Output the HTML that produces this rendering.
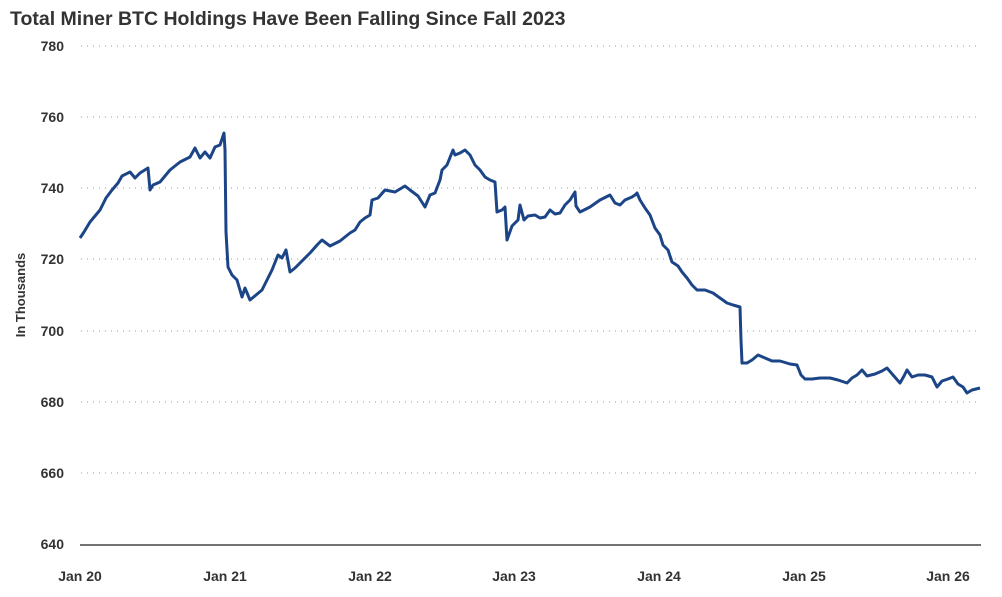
<!DOCTYPE html>
<html><head><meta charset="utf-8"><style>
body{margin:0;background:#fff;width:1002px;height:592px;overflow:hidden;font-family:"Liberation Sans",sans-serif}
</style></head><body>
<svg width="1002" height="592" xmlns="http://www.w3.org/2000/svg" font-family="Liberation Sans, sans-serif">
<text x="10" y="25" font-size="19.5" font-weight="bold" fill="#333">Total Miner BTC Holdings Have Been Falling Since Fall 2023</text>
<g stroke="#999" stroke-width="1" stroke-dasharray="1 5">
<line x1="81" x2="981" y1="46" y2="46"/><line x1="81" x2="981" y1="117" y2="117"/>
<line x1="81" x2="981" y1="188" y2="188"/><line x1="81" x2="981" y1="259" y2="259"/>
<line x1="81" x2="981" y1="331" y2="331"/><line x1="81" x2="981" y1="402" y2="402"/>
<line x1="81" x2="981" y1="473" y2="473"/>
</g>
<line x1="80" x2="981" y1="545" y2="545" stroke="#444" stroke-width="1.5"/>
<g font-size="14" font-weight="bold" fill="#333" text-anchor="end">
<text x="64" y="51">780</text><text x="64" y="122">760</text><text x="64" y="193">740</text>
<text x="64" y="264">720</text><text x="64" y="336">700</text><text x="64" y="407">680</text>
<text x="64" y="478">660</text><text x="64" y="549">640</text>
</g>
<g font-size="14" font-weight="bold" fill="#333" text-anchor="middle">
<text x="80" y="581">Jan 20</text><text x="225" y="581">Jan 21</text><text x="370" y="581">Jan 22</text>
<text x="514" y="581">Jan 23</text><text x="659" y="581">Jan 24</text><text x="804" y="581">Jan 25</text>
<text x="948" y="581">Jan 26</text>
</g>
<text transform="translate(25,295) rotate(-90)" font-size="13" font-weight="bold" fill="#333" text-anchor="middle">In Thousands</text>
<polyline fill="none" stroke="#1c4587" stroke-width="3" stroke-linejoin="round" points="
80,238 84,232 90,222 100,210 106,198 112,190 118,183 122,176 130,172 135,178 140,173 148,168 150,190 153,185 160,182 170,170 180,162 190,157 195,148 200,158 205,152 210,158 215,147 220,145 224,133 225,150 226,232 228,267 232,275 237,280 242,297 245,288 250,300 256,295 262,290 266,282 272,270 278,255 282,258 286,250 290,272 295,268 300,263 310,253 318,244 322,240 330,246 340,241 350,233 355,230 360,222 365,218 370,215 372,200 378,198 385,190 395,192 405,186 410,190 418,196 425,207 430,195 435,193 440,180 442,170 447,165 453,150 455,155 460,153 465,150 470,155 475,165 480,170 485,177 490,180 495,182 497,212 502,210 505,207 507,240 512,226 518,220 520,205 524,220 528,216 535,215 540,218 545,217 550,210 555,214 560,213 565,205 570,200 575,192 576,206 580,212 590,207 600,200 610,195 615,203 620,205 625,200 632,197 635,195 637,193 640,200 645,208 650,215 655,228 660,235 663,245 668,250 672,262 678,266 682,272 687,278 692,285 697,290 705,290 713,293 720,298 727,303 733,305 740,307 741,340 742,363 747,363 752,360 758,355 765,358 772,361 780,361 790,364 797,365 801,375 805,379 812,379 820,378 830,378 838,380 847,383 852,378 857,375 862,370 867,376 875,374 882,371 887,368 893,375 900,383 904,376 907,370 912,377 918,375 925,375 932,377 937,387 942,381 948,379 953,377 958,384 963,387 967,393 972,390 976,389 980,388"/>
</svg>
</body></html>
